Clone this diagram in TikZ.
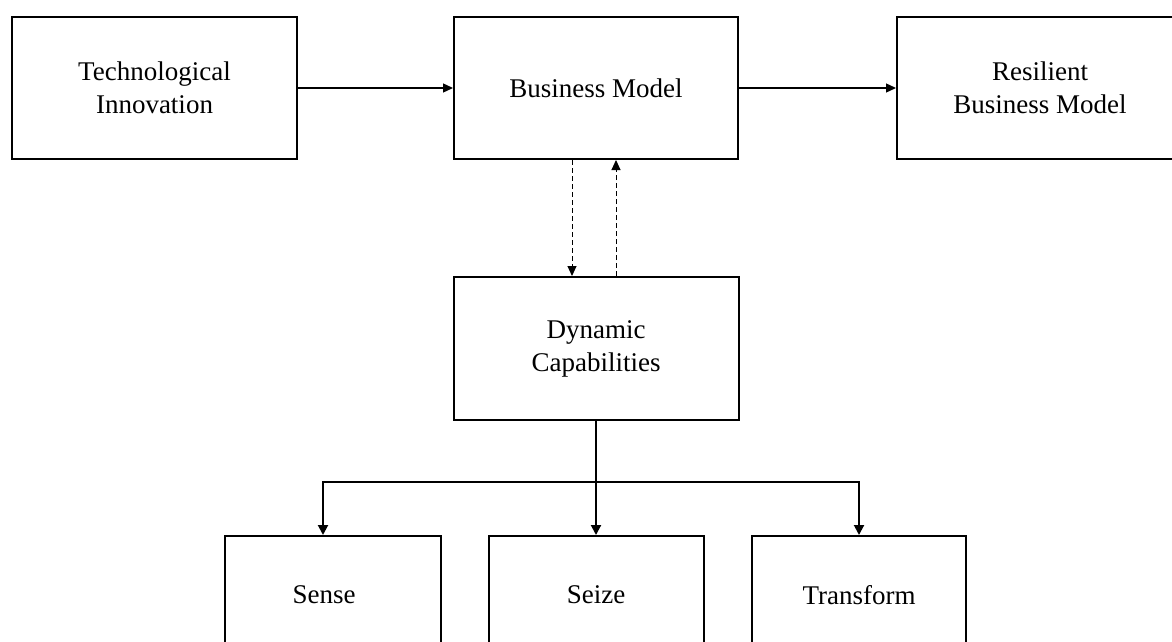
\documentclass[tikz,border=0pt]{standalone}
\usepackage{fontspec}
\setmainfont{Liberation Serif}
\usetikzlibrary{arrows.meta,calc}
\begin{document}
\begin{tikzpicture}[x=1pt,y=-1pt,
  box/.style={draw,line width=2pt,inner sep=0pt,align=center,
    font=\fontsize{27}{33}\selectfont},
  lowbox/.style={box,minimum height=118pt},
  topbox/.style={box,minimum height=142pt},
  arr/.style={line width=1.3pt,-{Triangle[length=10pt,width=9pt]}},
  darr/.style={line width=1pt,dash pattern=on 5pt off 3pt,-{Triangle[length=10pt,width=9pt]}},
  tarr/.style={line width=2pt,-{Triangle[length=10pt,width=10pt]}}]
\clip (0,0) rectangle (1172,642);
\fill[white] (0,0) rectangle (1172,642);
\node[topbox,minimum width=285pt] (ti) at (154.5,88) {Technological\\Innovation};
\node[topbox,minimum width=284pt] (bm) at (596,88) {Business Model};
\node[topbox,minimum width=286pt] (rbm) at (1040,88) {Resilient\\Business Model};
\node[topbox,minimum width=285pt,minimum height=143pt] (dc) at (596,348.5) {Dynamic\\Capabilities};
\node[lowbox,minimum width=216pt] (sense) at (333,595) {Sense\hspace*{18pt}};
\node[lowbox,minimum width=215pt] (seize) at (596,595) {Seize};
\node[lowbox,minimum width=214pt] (transform) at (859,595) {Transform};
\draw[arr] (ti.east) -- (bm.west);
\draw[arr] (bm.east) -- (rbm.west);
\draw[darr] ([xshift=-24pt]bm.south) -- ([xshift=-24pt]dc.north);
\draw[darr] ([xshift=20pt]dc.north) -- ([xshift=20pt]bm.south);
\coordinate (split) at ($(dc.south)+(0,61)$);
\draw[line width=2pt] (dc.south) -- (split);
\draw[tarr] (split) -- (seize.north);
\draw[tarr] (split) -| ([xshift=-10pt]sense.north);
\draw[tarr] (split) -| (transform.north);
\end{tikzpicture}
\end{document}
